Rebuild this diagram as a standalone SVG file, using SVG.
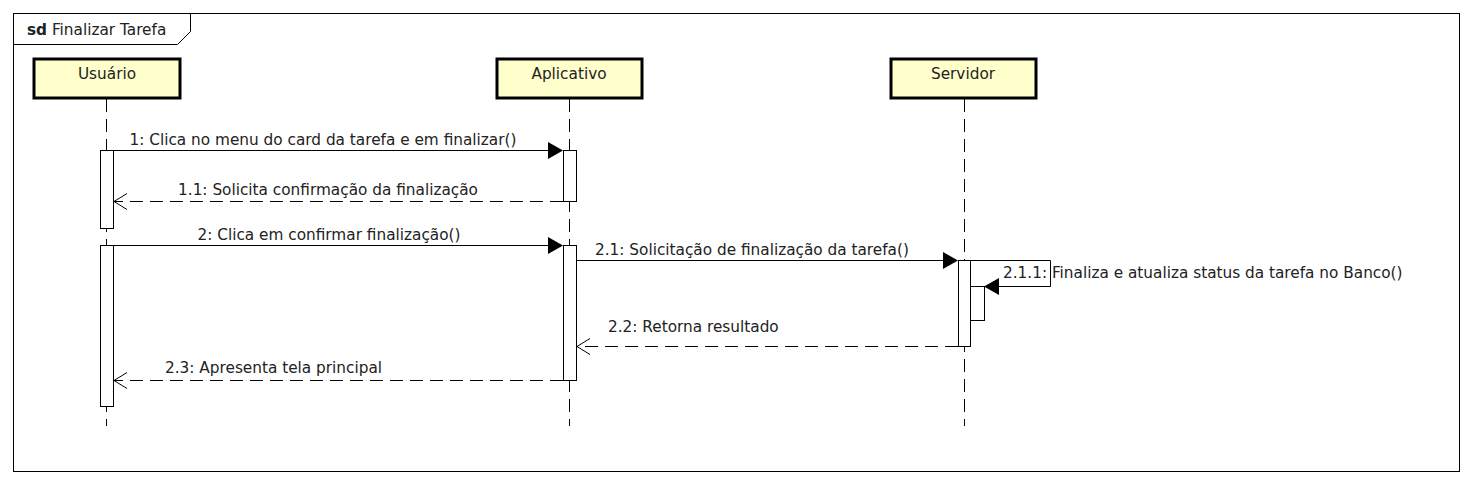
<svg xmlns="http://www.w3.org/2000/svg" width="1472" height="485" viewBox="0 0 1472 485">
<defs>
<style>
text{font-family:"DejaVu Sans","Liberation Sans",sans-serif;font-size:15.3px;fill:#222}
.lbl{text-anchor:middle}
.box{fill:#ffffcc;stroke:#000;stroke-width:3}
.life{stroke:#000;stroke-width:1;stroke-dasharray:13,7;fill:none}
.act{fill:#fff;stroke:#000;stroke-width:1}
.msg{stroke:#000;stroke-width:1;fill:none}
.ret{stroke:#000;stroke-width:1;fill:none;stroke-dasharray:13,7}
.filled{fill:#000;stroke:none}
.open{fill:none;stroke:#000;stroke-width:1}
</style>
</defs>
<rect width="1472" height="485" fill="#fff"/>
<g id="frame">
<rect x="13.5" y="13.5" width="1446" height="458" fill="none" stroke="#000"/>
<path d="M13.5 44.5 H177.5 L190.5 31.5 V13.5" fill="none" stroke="#000"/>
<text x="27" y="35"><tspan font-weight="bold">sd</tspan> Finalizar Tarefa</text>
</g>
<g id="usuario">
<line class="life" x1="106.5" y1="99" x2="106.5" y2="426"/>
<rect class="box" x="34" y="59" width="146" height="39"/>
<text class="lbl" x="107" y="79">Usuário</text>
<rect class="act" x="100.5" y="150.5" width="13" height="78"/>
<rect class="act" x="100.5" y="245.5" width="13" height="161"/>
</g>
<g id="aplicativo">
<line class="life" x1="569.5" y1="99" x2="569.5" y2="426"/>
<rect class="box" x="497" y="59" width="145" height="39"/>
<text class="lbl" x="569" y="79">Aplicativo</text>
<rect class="act" x="563.5" y="150.5" width="13" height="51"/>
<rect class="act" x="563.5" y="245.5" width="13" height="135"/>
</g>
<g id="servidor">
<line class="life" x1="964.5" y1="99" x2="964.5" y2="426"/>
<rect class="box" x="891" y="59" width="145" height="39"/>
<text class="lbl" x="963" y="79">Servidor</text>
<rect class="act" x="958.5" y="260.5" width="12" height="86"/>
<rect class="act" x="970.5" y="286.5" width="14" height="34"/>
</g>
<g id="connectors">
<line class="msg" x1="113" y1="150.5" x2="549" y2="150.5"/>
<path class="filled" d="M548 142 L563 150.5 L548 159 Z"/>
<text class="lbl" x="323" y="145">1: Clica no menu do card da tarefa e em finalizar()</text>

<line class="ret" x1="563" y1="201.5" x2="114" y2="201.5"/>
<path class="open" d="M127 193.5 L114 201.5 L127 209.5"/>
<text class="lbl" x="328" y="195">1.1: Solicita confirmação da finalização</text>

<line class="msg" x1="113" y1="245.5" x2="549" y2="245.5"/>
<path class="filled" d="M548 237 L563 245.5 L548 254 Z"/>
<text class="lbl" x="329" y="240">2: Clica em confirmar finalização()</text>

<line class="msg" x1="576" y1="260.5" x2="944" y2="260.5"/>
<path class="filled" d="M943 252 L958 260.5 L943 269 Z"/>
<text x="595" y="255">2.1: Solicitação de finalização da tarefa()</text>

<path class="msg" d="M970 260.5 H1050.5 V286.5 H998"/>
<path class="filled" d="M999 278 L984 286.5 L999 295 Z"/>
<text x="1003" y="278">2.1.1: Finaliza e atualiza status da tarefa no Banco()</text>

<line class="ret" x1="958" y1="346.5" x2="577" y2="346.5"/>
<path class="open" d="M590 338.5 L577 346.5 L590 354.5"/>
<text x="608" y="332">2.2: Retorna resultado</text>

<line class="ret" x1="563" y1="380.5" x2="114" y2="380.5"/>
<path class="open" d="M127 372.5 L114 380.5 L127 388.5"/>
<text x="165" y="373">2.3: Apresenta tela principal</text>
</g>
</svg>
